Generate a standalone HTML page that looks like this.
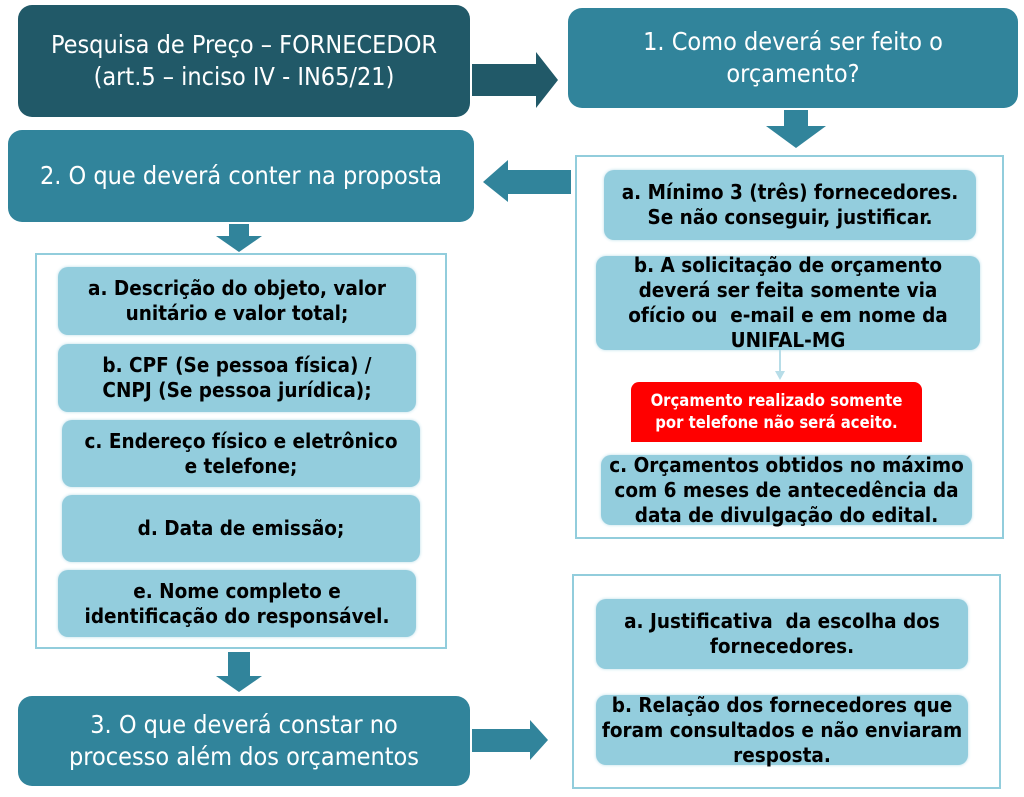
<!DOCTYPE html>
<html><head><meta charset="utf-8"><style>
body{margin:0;width:1024px;height:797px;background:#fff;position:relative;overflow:hidden;font-family:"DejaVu Sans Condensed","DejaVu Sans","Liberation Sans",sans-serif}
.b{position:absolute;display:flex;align-items:center;justify-content:center;text-align:center;box-sizing:border-box}
.dk{background:#215968;color:#fff;border-radius:14px;font-size:25px;line-height:32px}
.tl{background:#31849b;color:#fff;border-radius:14px;font-size:25px;line-height:32px}
.it{background:#93cddd;color:#000;border-radius:10px;font-size:20.5px;font-weight:bold;line-height:25px;box-shadow:0 0 3px #b7dde8}
.ct{position:absolute;border:2px solid #92cddc;background:#fff;box-sizing:border-box}
.rd{background:#ff0000;color:#fff;font-size:16.5px;font-weight:bold;line-height:22px;border-radius:8px 8px 0 0}
svg{position:absolute;left:0;top:0}
</style></head><body>
<div class="ct" style="left:575px;top:155px;width:429px;height:384px"></div>
<div class="ct" style="left:35px;top:253px;width:412px;height:396px"></div>
<div class="ct" style="left:572px;top:574px;width:429px;height:215px"></div>

<div class="b dk" style="left:18px;top:5px;width:452px;height:112px">Pesquisa de Preço – FORNECEDOR<br>(art.5 – inciso IV - IN65/21)</div>
<div class="b tl" style="left:568px;top:8px;width:450px;height:100px">1. Como deverá ser feito o<br>orçamento?</div>
<div class="b tl" style="left:8px;top:130px;width:466px;height:92px">2. O que deverá conter na proposta</div>
<div class="b tl" style="left:18px;top:696px;width:452px;height:90px">3. O que deverá constar no<br>processo além dos orçamentos</div>

<div class="b it" style="left:604px;top:170px;width:372px;height:70px">a. Mínimo 3 (três) fornecedores.<br>Se não conseguir, justificar.</div>
<div class="b it" style="left:596px;top:256px;width:384px;height:94px">b. A solicitação de orçamento<br>deverá ser feita somente via<br>ofício ou &nbsp;e-mail e em nome da<br>UNIFAL-MG</div>
<div class="b rd" style="left:631px;top:382px;width:291px;height:60px">Orçamento realizado somente<br>por telefone não será aceito.</div>
<div class="b it" style="left:601px;top:455px;width:371px;height:70px">c. Orçamentos obtidos no máximo<br>com 6 meses de antecedência da<br>data de divulgação do edital.</div>

<div class="b it" style="left:58px;top:267px;width:358px;height:68px">a. Descrição do objeto, valor<br>unitário e valor total;</div>
<div class="b it" style="left:58px;top:344px;width:358px;height:68px">b. CPF (Se pessoa física) /<br>CNPJ (Se pessoa jurídica);</div>
<div class="b it" style="left:62px;top:420px;width:358px;height:67px">c. Endereço físico e eletrônico<br>e telefone;</div>
<div class="b it" style="left:62px;top:495px;width:358px;height:67px">d. Data de emissão;</div>
<div class="b it" style="left:58px;top:570px;width:358px;height:67px">e. Nome completo e<br>identificação do responsável.</div>

<div class="b it" style="left:596px;top:599px;width:372px;height:70px">a. Justificativa &nbsp;da escolha dos<br>fornecedores.</div>
<div class="b it" style="left:596px;top:695px;width:372px;height:70px">b. Relação dos fornecedores que<br>foram consultados e não enviaram<br>resposta.</div>

<svg width="1024" height="797">
<g fill="#31849b">
<polygon points="472,64 536,64 536,52 558,80 536,108 536,96 472,96" fill="#215968"/>
<polygon points="784,110 808,110 808,126 826,126 796,148 766,126 784,126"/>
<polygon points="571,170 508,170 508,160 483,182 508,202 508,194 571,194"/>
<polygon points="229,224 249,224 249,236 262,236 239,252 216,236 229,236"/>
<polygon points="228,652 250,652 250,676 262,676 239,692 216,676 228,676"/>
<polygon points="472,729 530,729 530,720 548,740 530,760 530,752 472,752"/>
</g>
<line x1="780" y1="350" x2="780" y2="372" stroke="#b7dde8" stroke-width="2"/>
<polygon points="775,371 785,371 780,380" fill="#b7dde8"/>
</svg>
</body></html>
